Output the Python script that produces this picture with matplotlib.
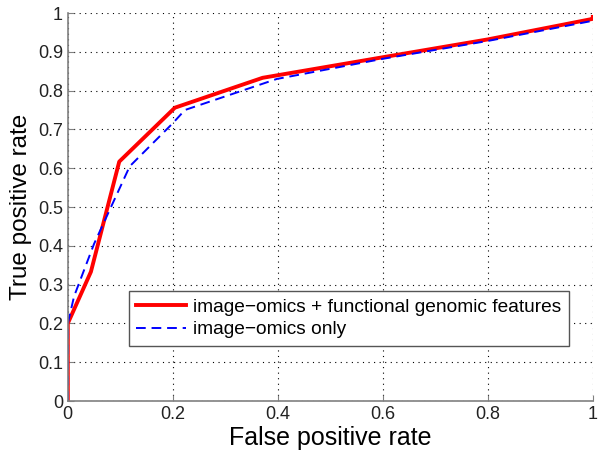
import matplotlib
matplotlib.use('Agg')
import matplotlib.pyplot as plt

plt.rcParams['font.family'] = ['Liberation Sans', 'DejaVu Sans']

# ROC curves
fpr_full = [0, 0, 0.044, 0.098, 0.204, 0.371, 0.6, 0.8, 1.0, 1.0]
tpr_full = [0, 0.2, 0.333, 0.617, 0.756, 0.833, 0.886, 0.932, 0.985, 0.99]
fpr_img = [0, 0, 0.012, 0.05, 0.118, 0.2, 0.223, 0.398, 0.6, 0.8, 1.0]
tpr_img = [0, 0.2, 0.27, 0.405, 0.605, 0.716, 0.75, 0.83, 0.882, 0.928, 0.98]

xticks = [0, 0.2, 0.4, 0.6, 0.8, 1]
xlabels = ['0', '0.2', '0.4', '0.6', '0.8', '1']
yticks = [0, 0.1, 0.2, 0.3, 0.4, 0.5, 0.6, 0.7, 0.8, 0.9, 1]
ylabels = ['0', '0.1', '0.2', '0.3', '0.4', '0.5', '0.6', '0.7', '0.8', '0.9', '1']

fig = plt.figure(figsize=(6, 4.57), dpi=100)
ax = fig.add_axes([0.113, 0.1225, 0.875, 0.849])

ax.plot(fpr_full, tpr_full, color='#ff0000', lw=2.8,
        label='image\u2212omics + functional genomic features')
ax.plot(fpr_img, tpr_img, color='#0000ff', lw=1.4, ls=(0, (5, 3)),
        label='image\u2212omics only')

ax.set_xlim(0, 1)
ax.set_ylim(0, 1)
ax.set_xticks(xticks)
ax.set_xticklabels(xlabels)
ax.set_yticks(yticks)
ax.set_yticklabels(ylabels)
ax.tick_params(direction='in', length=4, labelsize=13, colors='#808080',
               labelcolor='#222222')
ax.grid(True, color='black', ls=(0, (1, 4)), lw=0.8)
for s in ['top', 'right']:
    ax.spines[s].set_visible(False)
for s in ['left', 'bottom']:
    ax.spines[s].set_color('#808080')
    ax.spines[s].set_linewidth(1.2)

ax.set_xlabel('False positive rate', fontsize=18, labelpad=2)
ax.set_ylabel('True positive rate', fontsize=17.5, labelpad=4)

leg = ax.legend(loc='lower left', bbox_to_anchor=(0.116, 0.142), fontsize=13.8,
                fancybox=False, framealpha=1, edgecolor='#555555',
                handlelength=2.6, handletextpad=0.35, borderpad=0.4,
                labelspacing=0.25, borderaxespad=0)
leg.get_frame().set_linewidth(1.0)

fig.savefig('out.png', dpi=100)
